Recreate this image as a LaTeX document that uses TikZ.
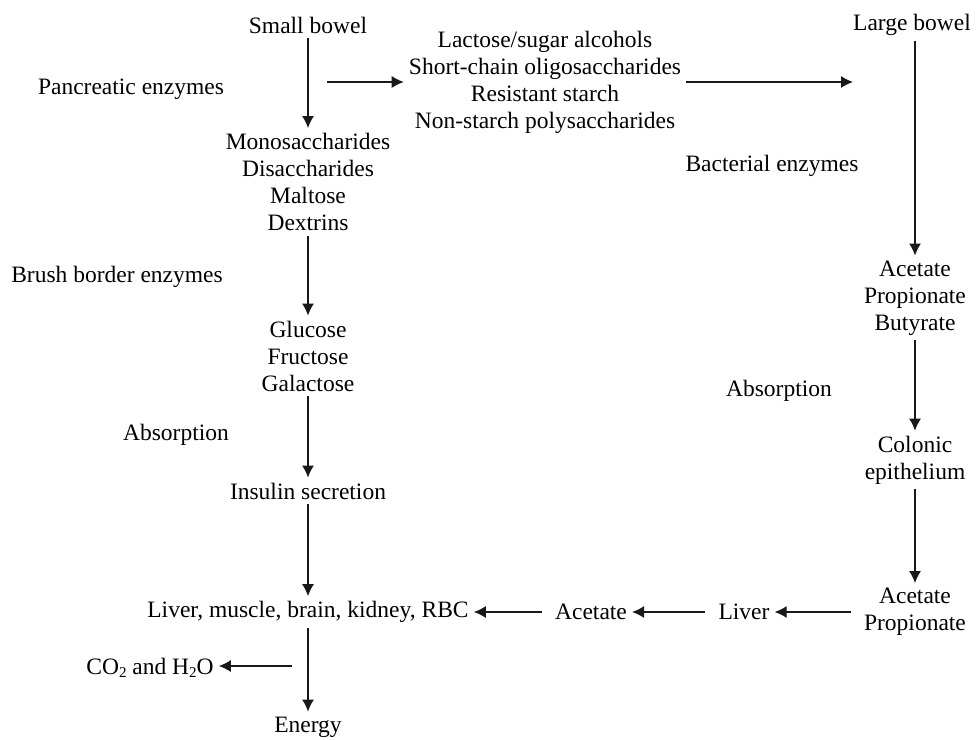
\documentclass[tikz,border=0pt]{standalone}
\usepackage{fontspec}
\setmainfont{Liberation Serif}
\usetikzlibrary{arrows.meta}
\newcommand{\subtwo}{\raisebox{-0.3ex}{\fontsize{15}{15}\selectfont 2}}
\begin{document}
\begin{tikzpicture}[x=1pt,y=-1pt,
  lbl/.style={font=\fontsize{23.5}{27}\selectfont, align=center, inner sep=5pt},
  arr/.style={-{Latex[length=12pt,width=12pt]}, line width=1.2pt, color=black!90}]
\useasboundingbox (0,0) rectangle (976,739);
\node[lbl] (sb) at (308,25) {Small bowel};
\node[lbl] (pe) at (131,89) {Pancreatic enzymes};
\node[lbl] (lac) at (545,82) {Lactose/sugar alcohols\\Short-chain oligosaccharides\\Resistant starch\\Non-starch polysaccharides};
\node[lbl] (lb) at (912,25) {Large bowel};
\node[lbl] (be) at (772,166) {Bacterial enzymes};
\node[lbl] (mono) at (308,182) {Monosaccharides\\Disaccharides\\Maltose\\Dextrins};
\node[lbl] (bbe) at (117,277) {Brush border enzymes};
\node[lbl] (glu) at (308,356) {Glucose\\Fructose\\Galactose};
\node[lbl] (abs1) at (176,435) {Absorption};
\node[lbl] (ins) at (308,491) {Insulin secretion};
\node[lbl] (lmb) at (308,612) {Liver, muscle, brain, kidney, RBC};
\node[lbl] (ac) at (591,612) {Acetate};
\node[lbl] (liv) at (744,612) {Liver};
\node[lbl] (ap) at (915,612) {Acetate\\Propionate};
\node[lbl] (apb) at (915,298) {Acetate\\Propionate\\Butyrate};
\node[lbl] (abs2) at (779,391) {Absorption};
\node[lbl] (col) at (915,460) {Colonic\\epithelium};
\node[lbl] (co2) at (150,668) {CO\subtwo{} and H\subtwo O};
\node[lbl] (en) at (308,727) {Energy};
\coordinate (c1) at (327,82);
\coordinate (c2) at (853,82);
\coordinate (c3) at (292,666);
% left column
\draw[arr] (sb.south) -- (mono.north);
\draw[arr] (mono.south) -- (glu.north);
\draw[arr] (glu.south) -- (ins.north);
\draw[arr] (ins.south) -- (lmb.north);
\draw[arr] (lmb.south) -- (en.north);
% top row
\draw[arr] (c1) -- (lac.west |- c1);
\draw[arr] (lac.east |- c2) -- (c2);
% right column
\draw[arr] (apb.north |- lb.south) -- (apb.north);
\draw[arr] (apb.south) -- (col.north);
\draw[arr] (col.south) -- (ap.north);
% bottom row
\draw[arr, shorten <=8pt] (ap.west |- liv) -- (liv.east);
\draw[arr, shorten <=8pt] (liv.west) -- (ac.east);
\draw[arr, shorten <=8pt] (ac.west) -- (lmb.east);
\draw[arr] (c3) -- (co2.east |- c3);
\end{tikzpicture}
\end{document}
